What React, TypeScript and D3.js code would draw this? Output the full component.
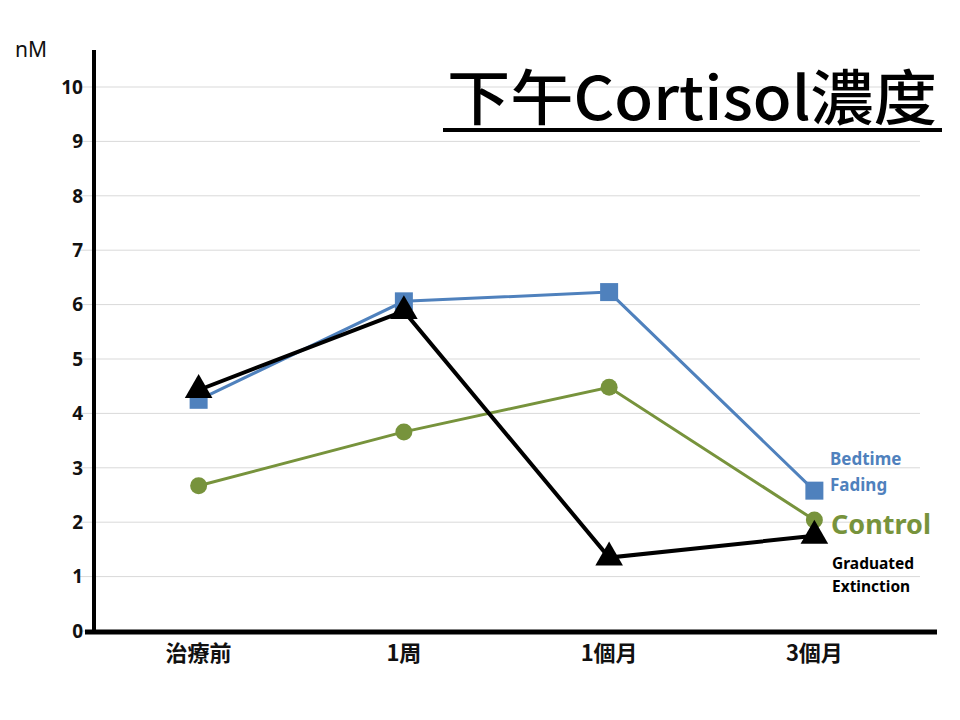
import * as d3 from "d3";

const categories = ["治療前", "1周", "1個月", "3個月"];
const yTicks = [0, 1, 2, 3, 4, 5, 6, 7, 8, 9, 10];

const bedtimeFading = [4.25, 6.06, 6.23, 2.58];
const control = [2.67, 3.66, 4.48, 2.04];
const graduatedExtinction = [4.43, 5.88, 1.35, 1.75];

const BLUE = "#4F81BD";
const GREEN = "#77933C";
const FONT = "'Noto Sans', 'Noto Sans CJK TC', sans-serif";
const CJK = "'Noto Sans CJK TC', 'Noto Sans', sans-serif";

export default function App() {
  const width = 960;
  const height = 720;

  const x = d3.scaleBand<string>().domain(categories).range([96, 917]).padding(0);
  const y = d3.scaleLinear().domain([0, 10]).range([631, 87]);
  const cx = (i: number) => (x(categories[i]) as number) + x.bandwidth() / 2;

  const line = d3
    .line<number>()
    .x((_, i) => cx(i))
    .y((d) => y(d));

  const tri = d3.symbol().type(d3.symbolTriangle).size(330)();

  return (
    <svg
      width={width}
      height={height}
      style={{ position: "absolute", left: 0, top: 0, background: "#fff" }}
    >
      {/* grid */}
      {yTicks.map((t) => (
        <line key={`g${t}`} x1={80} x2={920} y1={y(t)} y2={y(t)} stroke="#d9d9d9" strokeWidth={1} />
      ))}

      {/* y tick labels */}
      {yTicks.map((t) => (
        <text
          key={`t${t}`}
          x={83}
          y={y(t)}
          dy="0.36em"
          textAnchor="end"
          fontFamily={FONT}
          fontWeight="bold"
          fontSize={19}
          fill="#111"
        >
          {t}
        </text>
      ))}
      <text x={15} y={57} fontFamily={FONT} fontSize={21} fill="#111">
        nM
      </text>

      {/* axes */}
      <line x1={94} x2={94} y1={50} y2={634} stroke="#000" strokeWidth={4} />
      <line x1={85} x2={937} y1={632} y2={632} stroke="#000" strokeWidth={5} />

      {/* category labels */}
      {categories.map((c, i) => (
        <text
          key={c}
          x={cx(i)}
          y={661}
          textAnchor="middle"
          fontFamily={CJK}
          fontWeight="bold"
          fontSize={22}
          fill="#111"
        >
          {c}
        </text>
      ))}

      {/* title */}
      <text
        x={447}
        y={120}
        fontFamily={CJK}
        fontWeight="500"
        fontSize={60}
        textLength={490}
        lengthAdjust="spacingAndGlyphs"
        fill="#000"
      >
        下午Cortisol濃度
      </text>
      <line x1={443} x2={942} y1={130} y2={130} stroke="#000" strokeWidth={4} />

      {/* series lines */}
      <path d={line(bedtimeFading) ?? ""} fill="none" stroke={BLUE} strokeWidth={3} />
      <path d={line(control) ?? ""} fill="none" stroke={GREEN} strokeWidth={3} />
      <path d={line(graduatedExtinction) ?? ""} fill="none" stroke="#000" strokeWidth={4} />

      {/* markers */}
      {bedtimeFading.map((v, i) => (
        <rect key={`b${i}`} x={cx(i) - 9} y={y(v) - 9} width={18} height={18} fill={BLUE} />
      ))}
      {control.map((v, i) => (
        <circle key={`c${i}`} cx={cx(i)} cy={y(v)} r={8.5} fill={GREEN} />
      ))}
      {graduatedExtinction.map((v, i) => (
        <path key={`e${i}`} d={tri ?? ""} transform={`translate(${cx(i)},${y(v)})`} fill="#000" />
      ))}

      {/* series labels */}
      <text fontFamily={FONT} fontWeight="bold" fontSize={17} fill={BLUE}>
        <tspan x={830} y={465}>Bedtime</tspan>
        <tspan x={830} y={491}>Fading</tspan>
      </text>
      <text x={831} y={534} fontFamily={FONT} fontWeight="bold" fontSize={27} fill={GREEN}>
        Control
      </text>
      <text fontFamily={FONT} fontWeight="bold" fontSize={15.5} fill="#000">
        <tspan x={832} y={569}>Graduated</tspan>
        <tspan x={832} y={592}>Extinction</tspan>
      </text>
    </svg>
  );
}
